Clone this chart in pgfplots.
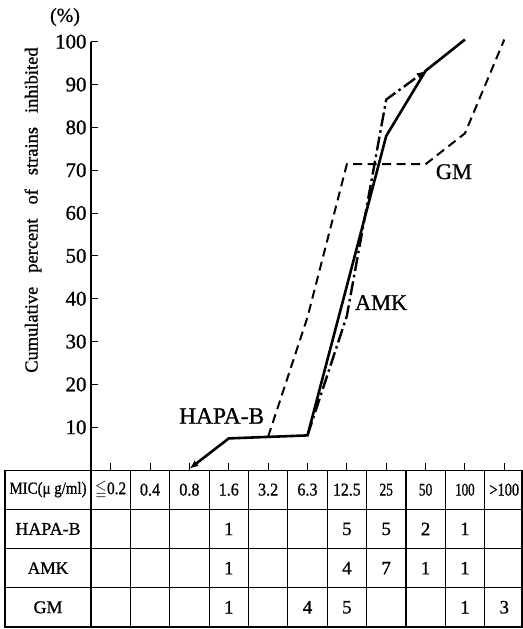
\documentclass[border=0pt]{standalone}
\usepackage{amssymb}
\usepackage{fontspec}
\setmainfont{Liberation Serif}[FakeBold=0.9]
\usepackage{pgfplots}
\pgfplotsset{compat=1.18}
\usetikzlibrary{arrows.meta}
\newcommand{\fs}[1]{\fontsize{#1}{#1}\selectfont}
\begin{document}
\begin{tikzpicture}
\begin{axis}[
  at={(0,0)}, anchor=south west,
  x=39.36bp, y=4.284bp,
  xmin=-0.5, xmax=10.5, ymin=0, ymax=100,
  enlargelimits=false,
  axis lines=left,
  axis line style={-, line width=1.2bp},
  xtick={0,...,10}, xticklabels={},
  ytick={10,20,...,100},
  tick align=inside,
  major tick length=7bp,
  tick style={line width=1.1bp, black},
  yticklabel style={font=\fs{21}, xshift=-1bp},
  /pgf/number format/assume math mode=true,
  clip=false,
]
% HAPA-B (solid)
\addplot[black, line width=2.6bp, line join=miter, {Latex[length=9bp,width=7bp]}-]
  coordinates {(2,0.3) (3,7.4) (5,8.1) (6,43.0) (7,78) (8,93.2) (9,100.5)};
% AMK (dash-dot)
\addplot[black, line width=2.4bp, dash pattern=on 14bp off 4bp on 2.5bp off 4bp, -{Latex[length=9bp,width=7bp]}]
  coordinates {(5,8.1) (6,36) (7,86.5) (8,93.2)};
% GM (dashed)
\addplot[black, line width=2bp, dash pattern=on 9bp off 5.5bp]
  coordinates {(4,7.8) (5,35.7) (6,71.4) (7,71.4) (8,71.4) (9,78.6) (10,100.5)};
\node[font=\fs{23.5}, inner sep=0] at (axis cs:2.82,12.63) {HAPA-B};
\node[font=\fs{22.5}, inner sep=0] at (axis cs:6.87,39.1) {AMK};
\node[font=\fs{22.5}, inner sep=0] at (axis cs:8.72,69.65) {GM};
\end{axis}
% y label and unit
\node[rotate=90, font=\fs{18.5}, inner sep=0] at (-58bp,260bp)
  {Cumulative\hspace{14bp}percent\hspace{14bp}of\hspace{14bp}strains\hspace{14bp}inhibited};
\node[font=\fs{20}, inner sep=0] at (-26bp,453bp) {(\%)};
% table
\draw[line width=1.2bp] (-86bp,0bp) rectangle (431bp,-156.8bp);
\foreach \yy in {-39.2,-78.4,-117.6} {\draw[line width=1.2bp] (-86bp,\yy bp) -- (431bp,\yy bp);}
\foreach \k in {0,...,10} {\draw[line width=1.2bp] ({39.36*\k*1bp},0bp) -- ({39.36*\k*1bp},-156.8bp);}
\node[font=\fs{17}, inner sep=0] at (-43bp,-19.6bp) {\scalebox{0.88}[1]{MIC(μ g/ml)}};
\foreach \k/\t/\s in {0/{$\leqq$0.2}/0.85,1/0.4/0.9,2/0.8/0.9,3/1.6/0.9,4/3.2/0.9,5/6.3/0.9,6/12.5/0.88,7/25/0.75,8/50/0.75,9/100/0.72,10/{>100}/0.8} {
  \node[font=\fs{18}, inner sep=0] at ({39.36*\k*1bp+19.68bp},-19.6bp) {\scalebox{\s}[1]{\t}};
}
\node[font=\fs{18}, inner sep=0] at (-43bp,-58.8bp) {HAPA-B};
\node[font=\fs{17.5}, inner sep=0] at (-43bp,-98bp) {AMK};
\node[font=\fs{18}, inner sep=0] at (-43bp,-137.2bp) {GM};
\foreach \k/\t in {3/1,6/5,7/5,8/2,9/1} {
  \node[font=\fs{19}, inner sep=0] at ({39.36*\k*1bp+19.68bp},-58.8bp) {\t};
}
\foreach \k/\t in {3/1,6/4,7/7,8/1,9/1} {
  \node[font=\fs{19}, inner sep=0] at ({39.36*\k*1bp+19.68bp},-98bp) {\t};
}
\foreach \k/\t in {3/1,5/4,6/5,9/1,10/3} {
  \node[font=\fs{19}, inner sep=0] at ({39.36*\k*1bp+19.68bp},-137.2bp) {\t};
}
\pgfresetboundingbox
\path (-91.02bp,-158.9bp) rectangle (431.98bp,470.1bp);
\end{tikzpicture}
\end{document}
